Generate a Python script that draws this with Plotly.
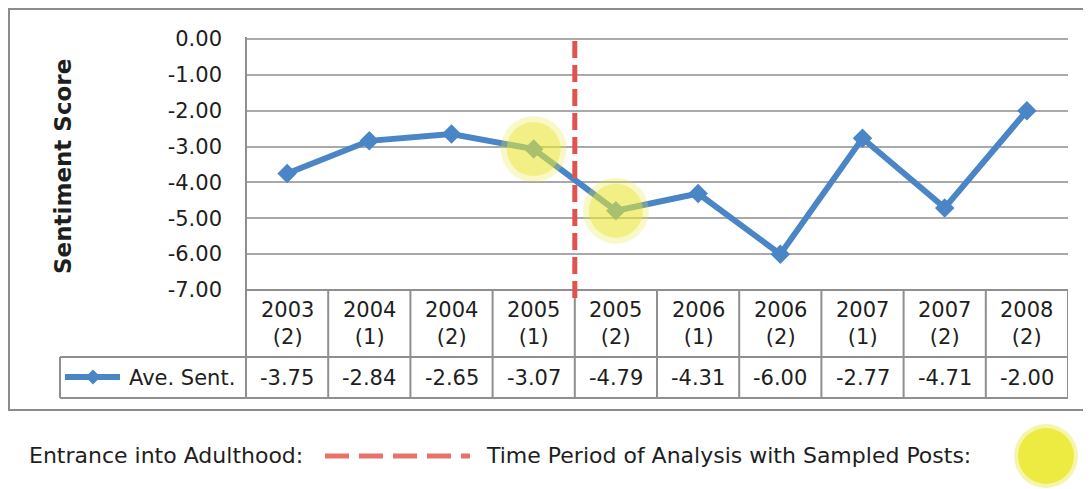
import plotly.graph_objects as go

# ---------------- data ----------------
years = ["2003", "2004", "2004", "2005", "2005", "2006", "2006", "2007", "2007", "2008"]
halves = ["(2)", "(1)", "(2)", "(1)", "(2)", "(1)", "(2)", "(1)", "(2)", "(2)"]
ave_sent = [-3.75, -2.84, -2.65, -3.07, -4.79, -4.31, -6.00, -2.77, -4.71, -2.00]
highlight_idx = [3, 4]
adulthood_boundary = 3.5
y_ticks = [0, -1, -2, -3, -4, -5, -6, -7]
series_name = "Ave. Sent."

# ---------------- geometry helpers ----------------
OFF = 8  # page body margin
W, H = 1091 - OFF, 489 - OFF
ML, MR, MT, MB = 246 - OFF, 23, 39 - OFF, 199
PW = W - ML - MR
PH = H - MT - MB


def px_x(px):
    return (px - OFF - ML) / PW


def px_y(py):
    return (H - MB - (py - OFF)) / PH


FONT = "DejaVu Sans, Liberation Sans, Arial"
TXT = "#1e1e1e"
BLUE = "#4a86c6"
GRID = "#a9a9a9"
TAB = "#8f8f8f"

n = len(ave_sent)
xs = list(range(n))

fig = go.Figure()

fig.add_trace(go.Scatter(
    x=xs, y=ave_sent, mode="lines+markers", name=series_name,
    line=dict(color=BLUE, width=6),
    marker=dict(symbol="diamond", size=15, color=BLUE),
    showlegend=False, hoverinfo="skip"))

# highlighted sampled periods (soft yellow discs)
hx = [xs[i] for i in highlight_idx]
hy = [ave_sent[i] for i in highlight_idx]
fig.add_trace(go.Scatter(x=hx, y=hy, mode="markers", showlegend=False, hoverinfo="skip",
                         marker=dict(size=66, color="rgba(232,230,60,0.28)", line=dict(width=0))))
fig.add_trace(go.Scatter(x=hx, y=hy, mode="markers", showlegend=False, hoverinfo="skip",
                         marker=dict(size=54, color="rgba(232,230,50,0.45)", line=dict(width=0))))

shapes = []
annotations = []

# top gridline and left spine
shapes.append(dict(type="line", xref="paper", yref="paper", x0=0, x1=1, y0=1, y1=1,
                   line=dict(color=GRID, width=2)))
shapes.append(dict(type="line", xref="paper", yref="paper", x0=0, x1=0,
                   y0=px_y(398), y1=px_y(37), line=dict(color=TAB, width=2)))

# data table lines
row_top, row_mid, row_bot = 290, 357, 398
key_left = 60
for py, x0 in [(row_top, 0), (row_mid, px_x(key_left)), (row_bot, px_x(key_left))]:
    shapes.append(dict(type="line", xref="paper", yref="paper", x0=x0, x1=1,
                       y0=px_y(py), y1=px_y(py), line=dict(color=TAB, width=2)))
for i in range(n + 1):
    xb = i - 0.5
    shapes.append(dict(type="line", xref="x", yref="paper", x0=xb, x1=xb,
                       y0=px_y(row_bot), y1=px_y(row_top), line=dict(color=TAB, width=2)))
shapes.append(dict(type="line", xref="paper", yref="paper", x0=px_x(key_left), x1=px_x(key_left),
                   y0=px_y(row_bot), y1=px_y(row_mid), line=dict(color=TAB, width=2)))

# category labels and values in the table
for i in range(n):
    annotations.append(dict(x=xs[i], xref="x", y=px_y((row_top + row_mid) / 2), yref="paper",
                            text=f"{years[i]}<br>{halves[i]}", showarrow=False,
                            font=dict(family=FONT, size=21, color=TXT),
                            xanchor="center", yanchor="middle"))
    annotations.append(dict(x=xs[i], xref="x", y=px_y((row_mid + row_bot) / 2), yref="paper",
                            text=f"{ave_sent[i]:.2f}", showarrow=False,
                            font=dict(family=FONT, size=21, color=TXT),
                            xanchor="center", yanchor="middle"))

# legend key in the table
ky = px_y(377)
shapes.append(dict(type="line", xref="paper", yref="paper", x0=px_x(65), x1=px_x(120),
                   y0=ky, y1=ky, line=dict(color=BLUE, width=6)))
cx, dx, dy = px_x(93), 7.5 / PW, 7.5 / PH
shapes.append(dict(type="path", xref="paper", yref="paper",
                   path=f"M {cx-dx},{ky} L {cx},{ky+dy} L {cx+dx},{ky} L {cx},{ky-dy} Z",
                   fillcolor=BLUE, line=dict(color=BLUE, width=0)))
annotations.append(dict(x=px_x(237), y=px_y(378), xref="paper", yref="paper", text=series_name,
                        showarrow=False, xanchor="right", yanchor="middle",
                        font=dict(family=FONT, size=21, color=TXT)))

# entrance into adulthood marker
shapes.append(dict(type="line", xref="x", yref="paper", x0=adulthood_boundary, x1=adulthood_boundary,
                   y0=px_y(298), y1=px_y(36), line=dict(color="#e0534f", width=5, dash="17px,7px")))

# y-axis title
annotations.append(dict(x=px_x(63), y=px_y(167), xref="paper", yref="paper", text="<b>Sentiment Score</b>",
                        textangle=-90, showarrow=False, xanchor="center", yanchor="middle",
                        font=dict(family=FONT, size=23, color=TXT)))

# outer chart border (kept just inside the figure's own area)
shapes.append(dict(type="rect", xref="paper", yref="paper", x0=px_x(OFF + 1), x1=px_x(1110),
                   y0=px_y(410), y1=px_y(OFF + 1), line=dict(color="#8c8c8c", width=2)))

# bottom legend
ly = px_y(456)
annotations.append(dict(x=px_x(27), y=ly, xref="paper", yref="paper", text="Entrance into Adulthood:",
                        showarrow=False, xanchor="left", yanchor="middle",
                        font=dict(family=FONT, size=22, color=TXT)))
shapes.append(dict(type="line", xref="paper", yref="paper", x0=px_x(325), x1=px_x(470),
                   y0=ly, y1=ly, line=dict(color="#e8716a", width=5, dash="24px,10px")))
annotations.append(dict(x=px_x(484), y=ly, xref="paper", yref="paper",
                        text="Time Period of Analysis with Sampled Posts:",
                        showarrow=False, xanchor="left", yanchor="middle",
                        font=dict(family=FONT, size=22, color=TXT)))
for r, col in [(32, "rgba(236,233,70,0.45)"), (28, "rgba(236,233,60,0.95)")]:
    shapes.append(dict(type="circle", xref="paper", yref="paper",
                       x0=px_x(1046 - r), x1=px_x(1046 + r), y0=px_y(456 + r), y1=px_y(456 - r),
                       fillcolor=col, line=dict(width=0)))

fig.update_layout(
    width=W, height=H,
    margin=dict(l=ML, r=MR, t=MT, b=MB, pad=0),
    paper_bgcolor="white", plot_bgcolor="white",
    showlegend=False,
    xaxis=dict(range=[-0.5, n - 0.5], showticklabels=False, showgrid=False, zeroline=False,
               showline=False, ticks=""),
    yaxis=dict(range=[-7, 0], tickvals=y_ticks, ticktext=[f"{v:.2f}" for v in y_ticks],
               showgrid=True, gridcolor=GRID, gridwidth=2, zeroline=False, showline=False,
               ticks="", ticklabelstandoff=23,
               tickfont=dict(family=FONT, size=21, color=TXT)),
    shapes=shapes, annotations=annotations,
)

fig.write_html("out.html")
